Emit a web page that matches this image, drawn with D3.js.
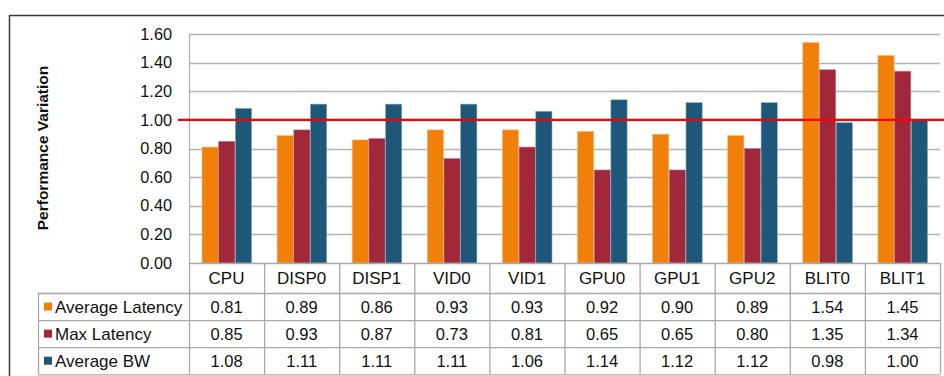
<!DOCTYPE html>
<html><head><meta charset="utf-8">
<script src="https://cdn.jsdelivr.net/npm/d3@7"></script>
<style>body{margin:0;background:#fff}svg{display:block}text{font-family:"Liberation Sans",Arial,sans-serif}</style>
</head><body><svg id="c" width="944" height="376"></svg>
<script>
const categories = ["CPU","DISP0","DISP1","VID0","VID1","GPU0","GPU1","GPU2","BLIT0","BLIT1"];
const seriesNames = ["Average Latency","Max Latency","Average BW"];
const avgLatency = [0.81,0.89,0.86,0.93,0.93,0.92,0.90,0.89,1.54,1.45];
const maxLatency = [0.85,0.93,0.87,0.73,0.81,0.65,0.65,0.80,1.35,1.34];
const avgBW = [1.08,1.11,1.11,1.11,1.06,1.14,1.12,1.12,0.98,1.00];
const yTicks = [0,0.2,0.4,0.6,0.8,1.0,1.2,1.4,1.6];
const refValue = 1.0;
const colors = ["#F0800A","#A0283A","#1E5777"];
const edgeColors = ["#F7B870","#C97886","#7FA6C0"];
const seriesValues = [avgLatency, maxLatency, avgBW];

(function(){
const svg = d3.select("#c");
const pLeft = 189, pRight = 940, pTop = 34, base = 263;
const rowH = 27.1, catRowH = 30;
const x0 = d3.scaleBand().domain(categories).range([pLeft, pRight]).padding(0);
const bw = x0.bandwidth();
const x1 = d3.scaleBand().domain(seriesNames).range([bw/6, bw*5/6]).padding(0);
const y = d3.scaleLinear().domain([0,1.6]).range([base, pTop]);

// outer border
svg.append("rect").attr("x",9.5).attr("y",15.5).attr("width",960).attr("height",400)
  .attr("fill","none").attr("stroke","#3a3a3a").attr("stroke-width",1.5);

// gridlines
svg.append("g").selectAll("line").data(yTicks.filter(d=>d>0)).join("line")
  .attr("x1",pLeft).attr("x2",pRight).attr("y1",d=>Math.round(y(d))+0.5).attr("y2",d=>Math.round(y(d))+0.5)
  .attr("stroke","#b4b4b4").attr("stroke-width",1.3);

// y axis
const yAxis = d3.axisLeft(y).tickValues(yTicks).tickFormat(d3.format(".2f")).tickSize(0).tickPadding(17);
const ga = svg.append("g").attr("transform",`translate(${pLeft},0)`).call(yAxis);
ga.select(".domain").attr("stroke","#b4b4b4").attr("stroke-width",1.3);
ga.selectAll("text").attr("font-size",16.3).attr("fill","#111").attr("font-family","'Liberation Sans',Arial,sans-serif");

// y title
svg.append("text").attr("transform","translate(48,148) rotate(-90)").attr("text-anchor","middle")
  .attr("font-size",15.5).attr("font-weight","bold").attr("fill","#111").text("Performance Variation");

// bars
const groups = svg.append("g").selectAll("g").data(categories).join("g")
  .attr("transform",d=>`translate(${x0(d)},0)`);
groups.selectAll("rect").data((c,i)=>seriesNames.map((s,k)=>({s,k,v:seriesValues[k][i]}))).join("rect")
  .attr("x",d=>x1(d.s)+0.5).attr("width",x1.bandwidth()-0.5)
  .attr("y",d=>y(d.v)).attr("height",d=>y(0)-y(d.v))
  .attr("fill",d=>colors[d.k]).attr("stroke",d=>edgeColors[d.k]).attr("stroke-width",0.6);

// reference line
svg.append("line").attr("x1",178).attr("x2",944).attr("y1",y(refValue)).attr("y2",y(refValue))
  .attr("stroke","#FF0000").attr("stroke-width",2.2);

// data table
const tbl = svg.append("g");
const tLeft = 38;
const hy = [base, base+catRowH, base+catRowH+rowH, base+catRowH+2*rowH, base+catRowH+3*rowH];
hy.forEach((yy,i)=>{
  tbl.append("line").attr("x1",i===0?pLeft:tLeft).attr("x2",pRight).attr("y1",yy+0.5).attr("y2",yy+0.5)
    .attr("stroke","#a8a8a8").attr("stroke-width",1.3);
});
const vx = categories.map(c=>x0(c)).concat([pRight]);
vx.forEach(xx=>{
  tbl.append("line").attr("x1",xx+0.5).attr("x2",xx+0.5).attr("y1",base).attr("y2",hy[4])
    .attr("stroke","#a8a8a8").attr("stroke-width",1.3);
});
tbl.append("line").attr("x1",tLeft+0.5).attr("x2",tLeft+0.5).attr("y1",hy[1]).attr("y2",hy[4])
  .attr("stroke","#a8a8a8").attr("stroke-width",1.3);

// category labels
tbl.selectAll("text.cat").data(categories).join("text").attr("class","cat")
  .attr("x",d=>x0(d)+bw/2).attr("y",base+catRowH/2+6).attr("text-anchor","middle")
  .attr("font-size",17).attr("fill","#111").text(d=>d);

// rows
seriesNames.forEach((s,k)=>{
  const cy = hy[1+k]+rowH/2;
  tbl.append("rect").attr("x",44).attr("y",cy-4).attr("width",8).attr("height",8).attr("fill",colors[k]);
  tbl.append("text").attr("x",55).attr("y",cy+6).attr("font-size",17).attr("fill","#111").text(s);
  tbl.selectAll(null).data(categories).join("text")
    .attr("x",d=>x0(d)+bw/2).attr("y",cy+6).attr("text-anchor","middle")
    .attr("font-size",16.5).attr("fill","#111").text((d,i)=>d3.format(".2f")(seriesValues[k][i]));
});
})();
</script></body></html>
